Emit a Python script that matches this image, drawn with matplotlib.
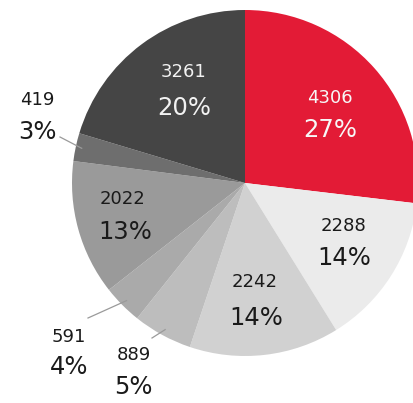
import numpy as np
import matplotlib.pyplot as plt

# slices, clockwise from 12 o'clock
values = [4306, 2288, 2242, 889, 591, 2022, 419, 3261]
pct_labels = ['27%', '14%', '14%', '5%', '4%', '13%', '3%', '20%']
colors = ['#e31b36', '#ebebeb', '#d1d1d1', '#bdbdbd', '#aaaaaa', '#9a9a9a', '#6e6e6e', '#454545']
text_colors = ['#f7f7f7', '#1a1a1a', '#1a1a1a', '#1a1a1a', '#1a1a1a', '#1a1a1a', '#1a1a1a', '#f2f2f2']

# label positions in picture pixels (x, y from top): value line, percent line
num_pos = [(330, 98), (344, 226), (255, 282), (134, 355), (69, 337), (123, 199), (37, 100), (184, 72)]
pct_pos = [(330, 130), (344, 258), (256, 318), (133, 387), (69, 367), (125, 232), (37, 132), (184, 108)]
# leader line outer ends for the small outside slices
leaders = {3: (152, 338), 4: (88, 318), 6: (60, 137)}

W, H = 414, 403
cx, cy, R = 245, H - 183, 173

fig = plt.figure(figsize=(W / 100, H / 100), dpi=100)
ax = fig.add_axes([0, 0, 1, 1])

wedges, _ = ax.pie(values, colors=colors, startangle=90, counterclock=False,
                   center=(cx, cy), radius=R, wedgeprops=dict(linewidth=0))

for i, w in enumerate(wedges):
    if i in leaders:
        mid = np.deg2rad((w.theta1 + w.theta2) / 2)
        x0 = cx + 0.965 * R * np.cos(mid)
        y0 = cy + 0.965 * R * np.sin(mid)
        x1, y1 = leaders[i]
        ax.plot([x0, x1], [y0, H - y1], color='#9a9a9a', lw=0.9)

for i in range(len(values)):
    ax.text(num_pos[i][0], H - num_pos[i][1], str(values[i]), ha='center', va='center',
            fontsize=13, color=text_colors[i])
    ax.text(pct_pos[i][0], H - pct_pos[i][1], pct_labels[i], ha='center', va='center',
            fontsize=17.5, color=text_colors[i])

ax.set_xlim(0, W)
ax.set_ylim(0, H)
ax.set_aspect('equal')
ax.axis('off')

fig.savefig('out.png', dpi=100, facecolor='white')
